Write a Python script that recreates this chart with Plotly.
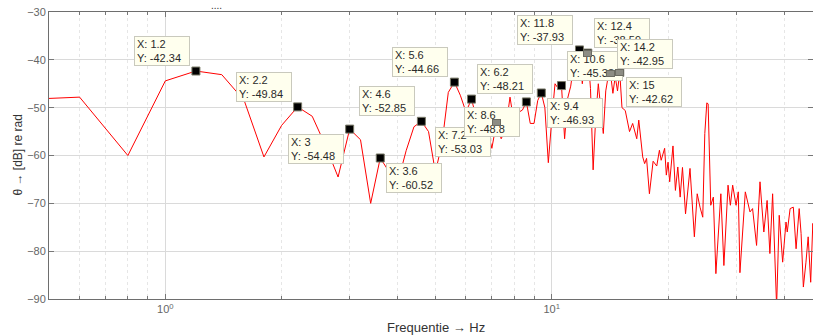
import math
import plotly.graph_objects as go

# ---------------- data ----------------
freq = [0.4, 0.6, 0.8, 1.0, 1.2, 1.4, 1.6, 1.8, 2.0, 2.2, 2.4, 2.6, 2.8, 3.0, 3.2, 3.4, 3.6, 3.8,
        4.0, 4.2, 4.4, 4.6, 4.8, 5.0, 5.2, 5.4, 5.6, 5.8, 6.0, 6.2, 6.4, 6.6, 6.8, 7.0, 7.2, 7.4,
        7.6, 7.8, 8.0, 8.2, 8.4, 8.6, 8.8, 9.0, 9.2, 9.4, 9.6, 9.8, 10.0, 10.2, 10.4, 10.6, 10.8,
        11.0, 11.2, 11.4, 11.6, 11.8, 12.0, 12.2, 12.4, 12.6, 12.8, 13.0, 13.2, 13.4, 13.6, 13.8,
        14.0, 14.2, 14.4, 14.6, 14.8, 15.0, 15.2, 15.5, 15.9, 16.2, 16.6, 16.8, 17.0, 17.2, 17.4,
        17.6, 17.9, 18.3, 18.7, 19.0, 19.2, 19.6, 19.8, 20.0, 20.2, 20.6, 20.9, 21.2, 21.5, 21.8,
        22.2, 22.8, 23.4, 23.8, 24.2, 24.6, 24.9, 25.2, 25.4, 25.8, 26.2, 26.6, 27.4, 27.9, 28.6,
        29.0, 29.4, 30.0, 30.4, 30.7, 31.7, 32.6, 33.1, 33.9, 34.6, 35.4, 36.1, 36.7, 37.3, 38.2,
        38.8, 39.6, 40.4, 40.7, 41.4, 42.2, 42.9, 43.7, 44.2, 44.8, 45.5, 46.1, 46.8, 47.4, 47.8]
theta_db = [-48.4, -47.8, -60.0, -44.4, -42.34, -43.1, -48.5, -60.3, -53.7, -49.84, -51.8, -58.0,
            -64.5, -54.48, -56.7, -70.0, -60.52, -63.5, -65.5, -59.0, -54.0, -52.85, -55.0, -63.5,
            -57.5, -46.8, -44.66, -47.4, -50.9, -48.21, -52.5, -55.5, -54.0, -58.5, -53.03, -56.5,
            -54.5, -47.8, -53.5, -51.0, -50.5, -48.8, -53.3, -53.3, -48.5, -46.93, -50.0, -61.5,
            -52.6, -45.0, -46.0, -45.38, -56.5, -48.0, -45.5, -41.0, -40.5, -37.93, -45.0, -40.0,
            -38.59, -46.0, -63.0, -52.0, -45.0, -50.5, -55.4, -46.5, -43.5, -42.95, -47.0, -43.5,
            -46.5, -42.62, -50.0, -50.6, -55.0, -53.3, -56.5, -52.6, -56.1, -60.3, -61.7, -60.6,
            -68.0, -61.2, -62.2, -58.9, -61.0, -58.5, -64.1, -61.4, -65.5, -58.0, -67.3, -62.4,
            -68.7, -62.5, -72.2, -62.7, -77.0, -68.0, -70.8, -72.9, -55.4, -49.0, -49.2, -70.4,
            -68.7, -84.7, -68.0, -83.0, -66.2, -70.4, -66.2, -70.4, -67.6, -84.5, -67.6, -71.8,
            -71.1, -78.8, -65.5, -76.0, -69.4, -80.5, -68.0, -91.5, -72.5, -82.3, -73.9, -76.0,
            -71.1, -70.8, -79.5, -71.1, -76.3, -87.5, -82.3, -77.0, -86.5, -74.2, -78.0]

tip_freq = [1.2, 2.2, 3.0, 3.6, 4.6, 5.6, 6.2, 7.2, 8.6, 9.4, 10.6, 11.8, 12.4, 14.2, 15.0]
tip_val = [-42.34, -49.84, -54.48, -60.52, -52.85, -44.66, -48.21, -53.03, -48.8, -46.93,
           -45.38, -37.93, -38.59, -42.95, -42.62]
tip_label_x = ["1.2", "2.2", "3", "3.6", "4.6", "5.6", "6.2", "7.2", "8.6", "9.4", "10.6",
               "11.8", "12.4", "14.2", "15"]
tip_label_y = ["-42.34", "-49.84", "-54.48", "-60.52", "-52.85", "-44.66", "-48.21", "-53.03",
               "-48.8", "-46.93", "-45.38", "-37.93", "-38.59", "-42.95", "-42.62"]

y_ticks = [-90, -80, -70, -60, -50, -40, -30]
x_major = [1, 10]
x_major_text = ["10<sup>0</sup>", "10<sup>1</sup>"]
x_minor = [0.6, 0.7, 0.8, 0.9, 2, 3, 4, 5, 6, 7, 8, 9, 20, 30, 40]

# ---------------- layout of the data-tip boxes ----------------
tip_dir = ["ul", "ul", "dl", "dr", "ul", "ul", "ur", "dl", "dl", "dr", "ur", "ul", "ur", "ur", "dr"]
covered = {7.2, 12.4, 14.2, 15.0}

FONT = "Liberation Sans, Arial, Helvetica, sans-serif"
W, H = 813, 336
L, T, B = 49, 12, 37
PW = W - L

fig = go.Figure()
fig.add_trace(go.Scatter(x=freq, y=theta_db, mode="lines",
                         line=dict(color="#ff0000", width=1), hoverinfo="skip",
                         showlegend=False))
fig.add_trace(go.Scatter(x=tip_freq, y=tip_val, mode="markers",
                         marker=dict(symbol="square", size=8, color="black",
                                     line=dict(color="#7a7a68", width=1)),
                         hoverinfo="skip", showlegend=False))

annotations = []
for f, v, lx, ly, d in zip(tip_freq, tip_val, tip_label_x, tip_label_y, tip_dir):
    xa = "right" if d[1] == "l" else "left"
    ya = "bottom" if d[0] == "u" else "top"
    annotations.append(dict(
        x=math.log10(f), y=v, xref="x", yref="y",
        text=f"X: {lx}<br>Y: {ly}",
        showarrow=False, xanchor=xa, yanchor=ya,
        xshift=-6 if xa == "right" else 6, yshift=5 if ya == "bottom" else -5,
        align="left", width=50, height=24, borderpad=2,
        bgcolor="#ffffee", bordercolor="#c9c9bd", borderwidth=1,
        font=dict(family=FONT, size=11, color="#2a2a2a")))
for f, v in zip(tip_freq, tip_val):
    if f in covered:
        annotations.append(dict(
            x=math.log10(f), y=v, xref="x", yref="y", text=" ", showarrow=False,
            xanchor="center", yanchor="middle", width=7, height=5, borderpad=0,
            bgcolor="#8c8c84", bordercolor="#6c6c64", borderwidth=1,
            font=dict(size=4)))

annotations.append(dict(x=(216 - L) / PW, y=1.0, xref="paper", yref="paper", text="....",
                        showarrow=False, xanchor="center", yanchor="bottom", yshift=-1,
                        font=dict(family=FONT, size=10, color="#333333")))
annotations.append(dict(x=(436 - L) / PW, y=0, xref="paper", yref="paper",
                        text="Frequentie \u2192 Hz", showarrow=False, xanchor="center",
                        yanchor="top", yshift=-19,
                        font=dict(family=FONT, size=13, color="#333333")))
annotations.append(dict(x=0, y=0.5, xref="paper", yref="paper",
                        text="\u03b8 \u2192 [dB] re rad", showarrow=False, textangle=-90,
                        xanchor="center", yanchor="middle", xshift=-32,
                        font=dict(family=FONT, size=12, color="#333333")))

fig.update_layout(
    width=W, height=H,
    margin=dict(l=L, r=0, t=T, b=B, autoexpand=False),
    paper_bgcolor="white", plot_bgcolor="white",
    annotations=annotations,
    font=dict(family=FONT),
    xaxis=dict(type="log", range=[math.log10(0.5), math.log10(47.45)], automargin=False,
               tickvals=x_major, ticktext=x_major_text, ticks="inside", ticklen=5,
               tickcolor="#777777", showline=True, linecolor="#6e6e6e", linewidth=1,
               mirror="ticks", showgrid=True, gridcolor="#dadada", gridwidth=1,
               tickfont=dict(family=FONT, size=11, color="#666666"), zeroline=False,
               minor=dict(tickvals=x_minor, ticks="inside", ticklen=3, tickcolor="#777777",
                          showgrid=True, gridcolor="#e6e6e6", griddash="dot", gridwidth=1)),
    yaxis=dict(range=[-90, -30], tickvals=y_ticks, ticks="inside", ticklen=5, automargin=False,
               tickcolor="#777777", showline=True, linecolor="#6e6e6e", linewidth=1,
               mirror="ticks", showgrid=True, gridcolor="#dadada", gridwidth=1,
               tickfont=dict(family=FONT, size=11, color="#666666"), zeroline=False),
)

# remove the page's default 8px body margin so the figure fills the window exactly
fig.write_html("out.html",
               config={"displayModeBar": False, "staticPlot": True},
               post_script="document.body.style.margin='0px';"
                           "document.body.style.overflow='hidden';")
